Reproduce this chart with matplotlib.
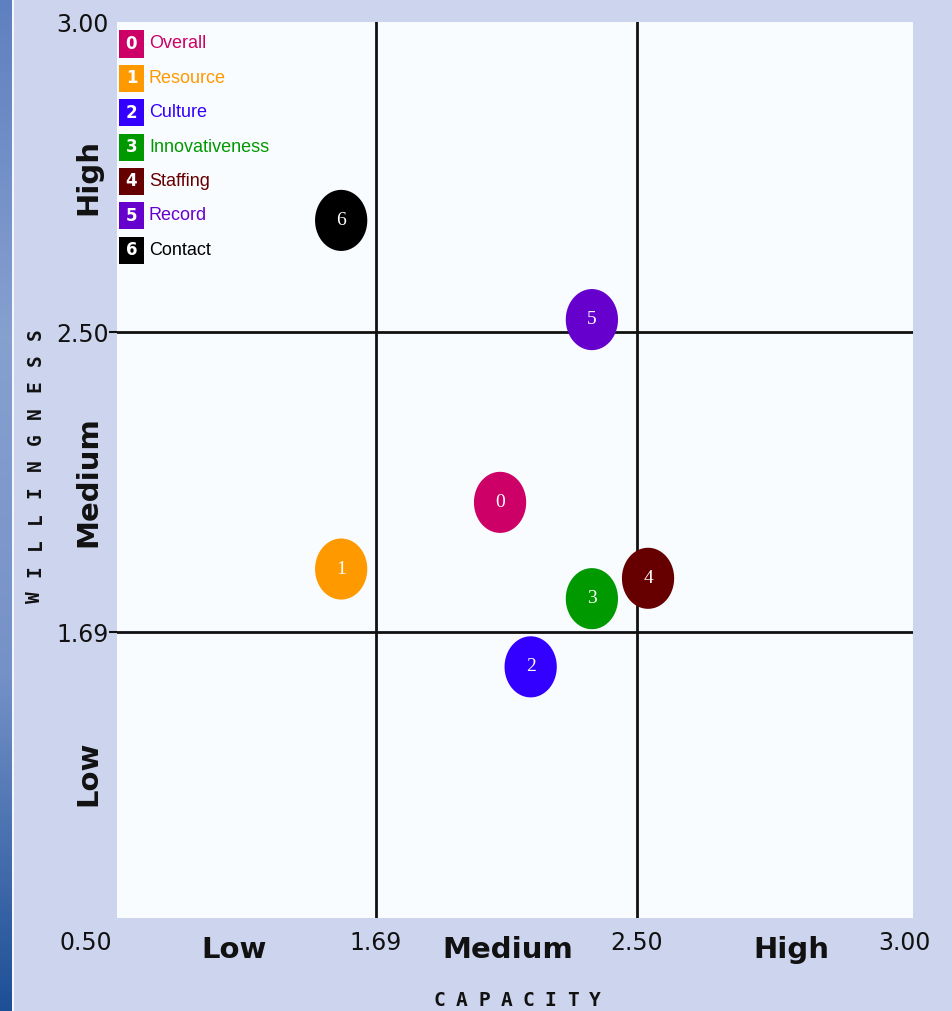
import numpy as np
import matplotlib
matplotlib.use("Agg")
import matplotlib.pyplot as plt
from matplotlib.path import Path
from matplotlib.colors import LinearSegmentedColormap
import matplotlib.transforms as mtransforms

# ---------------- data ----------------
ids = ["0", "1", "2", "3", "4", "5", "6"]
names = ["Overall", "Resource", "Culture", "Innovativeness", "Staffing", "Record", "Contact"]
capacity = [2.075, 1.53, 2.17, 2.36, 2.52, 2.36, 1.53]
willingness = [2.04, 1.86, 1.545, 1.78, 1.835, 2.52, 2.68]
colors = ["#cc0066", "#ff9900", "#3300ff", "#009900", "#660000", "#6600cc", "#000000"]
text_colors = ["#cc0066", "#ff9900", "#3300ff", "#009900", "#660000", "#6600cc", "#000000"]

breaks = [0.50, 1.69, 2.50, 3.00]
break_labels = ["0.50", "1.69", "2.50", "3.00"]
region_labels = ["Low", "Medium", "High"]
x_title = "CAPACITY"
y_title = "WILLINGNESS"

# piecewise scale (each band drawn about a third of the axis)
x_frac = [0.0, 259 / 796, 520 / 796, 1.0]
y_frac = [0.0, 286 / 896, 586 / 896, 1.0]


def make_scale(frac):
    def fwd(v):
        return np.interp(v, breaks, frac)

    def inv(v):
        return np.interp(v, frac, breaks)
    return fwd, inv


W, H = 952, 1011
fig = plt.figure(figsize=(W / 100, H / 100), dpi=100)
fig.patch.set_facecolor("#cdd5ee")

# left gradient strip
sax = fig.add_axes([0, 0, 12 / W, 1])
grad = np.linspace(0, 1, 256).reshape(-1, 1)
cmap = LinearSegmentedColormap.from_list("strip", ["#5f80c0", "#86a0d0", "#7592c8", "#1d4f97"])
sax.imshow(grad, aspect="auto", cmap=cmap, extent=[0, 1, 0, 1])
sax.set_axis_off()
fig.add_artist(plt.Line2D([12.5 / W, 12.5 / W], [0, 1], color="white", lw=1.2, transform=fig.transFigure))

ax = fig.add_axes([117 / W, (H - 918) / H, 796 / W, 896 / H])
ax.set_facecolor("#f9fcff")
ax.set_xscale("function", functions=make_scale(x_frac))
ax.set_yscale("function", functions=make_scale(y_frac))
ax.set_xlim(breaks[0], breaks[-1])
ax.set_ylim(breaks[0], breaks[-1])
for s in ax.spines.values():
    s.set_visible(False)

# quadrant lines
for b in breaks[1:3]:
    ax.axvline(b, color="#111111", lw=2.0, zorder=1)
    ax.axhline(b, color="#111111", lw=2.0, zorder=1)

# ticks
ax.set_xticks([])
ax.xaxis.set_minor_locator(matplotlib.ticker.NullLocator())
ax.yaxis.set_minor_locator(matplotlib.ticker.NullLocator())
ax.set_yticks(breaks[1:])
ax.set_yticklabels(break_labels[1:], fontsize=17, family="DejaVu Sans", color="#111111")
ax.tick_params(axis="y", length=6, width=1.5, pad=0, color="#111111")
ax.yaxis.get_major_ticks()[-1].tick1line.set_visible(False)

# x break labels
for b, lab in zip(breaks, break_labels):
    dx = 0
    if lab == "0.50":
        dx = -31
    elif lab == "3.00":
        dx = -9
    off = mtransforms.offset_copy(ax.get_xaxis_transform(), fig=fig, x=dx * 0.72, y=0, units="points")
    ax.text(b, -0.028, lab, transform=off, ha="center", va="center", fontsize=17,
            family="DejaVu Sans", color="#111111")

# region labels
xmid = [1.04, 2.10, 2.78]
ymid = [1.10, 2.095, 2.75]
for xm, lab in zip(xmid, region_labels):
    ax.text(xm, -0.036, lab, transform=ax.get_xaxis_transform(), ha="center", va="center",
            fontsize=21, fontweight="bold", family="DejaVu Sans", color="#111111")
for ym, lab in zip(ymid, region_labels):
    ax.text(-0.036, ym, lab, transform=ax.get_yaxis_transform(), ha="center", va="center",
            rotation=90, fontsize=21, fontweight="bold", family="DejaVu Sans", color="#111111")

# axis titles, letter-spaced
for k, ch in enumerate(x_title):
    fig.text((439.5 + k * 22.2) / W, 1 - 1000 / H, ch, ha="center", va="center", fontsize=14,
             fontweight="bold", family="DejaVu Sans Mono", color="#111111")
for k, ch in enumerate(y_title):
    fig.text(35 / W, 1 - (597 - k * 26.3) / H, ch, ha="center", va="center", fontsize=14,
             fontweight="bold", family="DejaVu Sans Mono", color="#111111", rotation=90)

# ellipse markers
theta = np.linspace(0, 2 * np.pi, 64)
ell = Path(np.column_stack([np.cos(theta) * 0.855, np.sin(theta)]), closed=True)
ax.scatter(capacity, willingness, s=44 ** 2, marker=ell, c=colors, edgecolors="none", zorder=3)
for x, y, i in zip(capacity, willingness, ids):
    ax.text(x, y, i, ha="center", va="center", color="white", fontsize=14,
            family="Liberation Serif", zorder=4)

# legend
for k, (i, n, c, tc) in enumerate(zip(ids, names, colors, text_colors)):
    yc = 1 - (44 + k * 34.35 - 22) / 896
    ax.add_patch(plt.Rectangle((2 / 796, yc - 13.5 / 896), 25 / 796, 27 / 896,
                               transform=ax.transAxes, facecolor=c, edgecolor="none", zorder=5))
    ax.text(14.5 / 796, yc, i, transform=ax.transAxes, ha="center", va="center",
            color="white", fontsize=12, fontweight="bold", family="DejaVu Sans", zorder=6)
    ax.text(32 / 796, yc, n, transform=ax.transAxes, ha="left", va="center",
            color=tc, fontsize=13, family="Liberation Sans", zorder=6)

fig.savefig("out.png", dpi=100, facecolor=fig.get_facecolor())
